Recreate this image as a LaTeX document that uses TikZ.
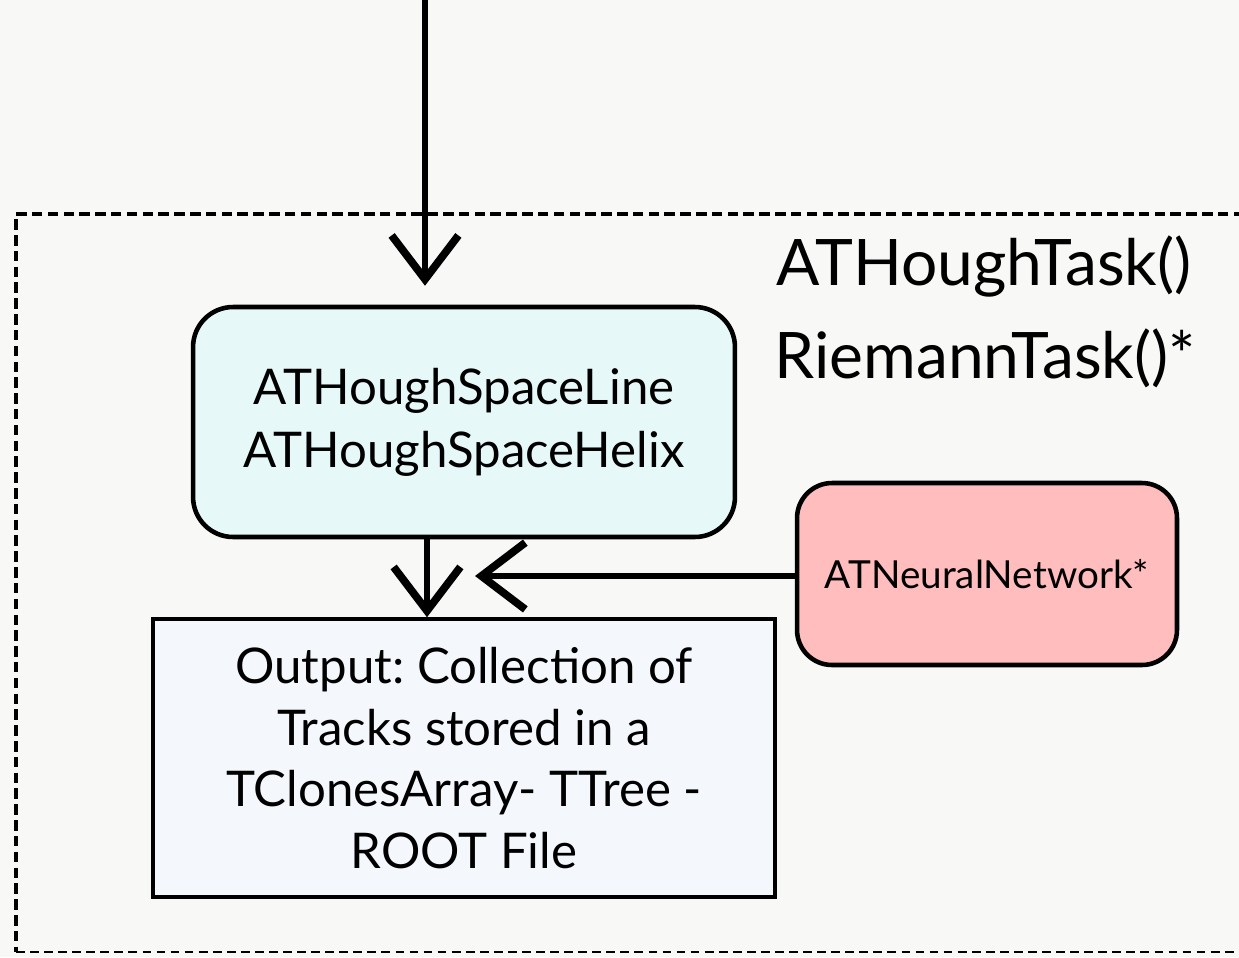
\documentclass[tikz,border=0pt]{standalone}
\usepackage{fontspec}
\setmainfont{Lato}
\usetikzlibrary{arrows.meta}
\usetikzlibrary{positioning}

\definecolor{paper}{HTML}{F8F8F6}
\definecolor{houghfill}{HTML}{E6F8F8}
\definecolor{netfill}{HTML}{FFBDBD}
\definecolor{outfill}{HTML}{F4F8FC}

\frenchspacing
\begin{document}
\begin{tikzpicture}[x=0.02cm,y=-0.02cm,
  every node/.style={align=center,text=black,inner sep=0pt},
  houghbox/.style={draw,line width=2.6pt,rounded corners=0.8cm,fill=houghfill,
    minimum width=10.84cm,minimum height=4.6cm,font=\fontsize{28}{36}\selectfont},
  netbox/.style={draw,line width=2.6pt,rounded corners=0.7cm,fill=netfill,
    minimum width=7.6cm,minimum height=3.64cm,font=\fontsize{22}{26}\selectfont},
  outbox/.style={draw,line width=1.9pt,fill=outfill,
    minimum width=12.44cm,minimum height=5.56cm,font=\fontsize{28}{35}\selectfont},
  tasklabel/.style={anchor=base west,font=\fontsize{36.5}{42}\selectfont},
  sketch/.style={line width=3.6pt,-{Straight Barb[length=25pt,width=38pt,line width=4.4pt]}}]
  \clip (0,0) rectangle (1239,957);
  \fill[paper] (0,0) rectangle (1239,957);

  % task frame, runs off the right edge
  \draw[line width=2.6pt,dash pattern=on 6pt off 3pt] (1260,214) -- (16,214) -- (16,952);
  \draw[line width=1.4pt,dash pattern=on 5pt off 3pt] (16,952) -- (1260,952);

  \node[houghbox] (hough) at (464,422) {ATHoughSpaceLine\\ATHoughSpaceHelix};
  \node[outbox,below=1.56cm of hough] (out) {Output: Collection of\\Tracks stored in a\\TClonesArray- TTree -\\ROOT File};
  \node[netbox] (net) at (987,574) {ATNeuralNetwork*};

  \node[tasklabel] (houghtask) at (776,285) {ATHoughTask()};
  \node[tasklabel] (riemanntask) at (774,378) {RiemannTask()*};

  \coordinate (inflow) at (425,-20);
  \coordinate (merge) at (475,576);

  \draw[sketch,shorten >=0.38cm] (inflow) -- (inflow |- hough.north);
  \draw[sketch] ([xshift=-0.74cm]hough.south) -- ([xshift=-0.74cm]out.north);
  \draw[sketch] (net.west |- merge) -- (merge);
\end{tikzpicture}
\end{document}
